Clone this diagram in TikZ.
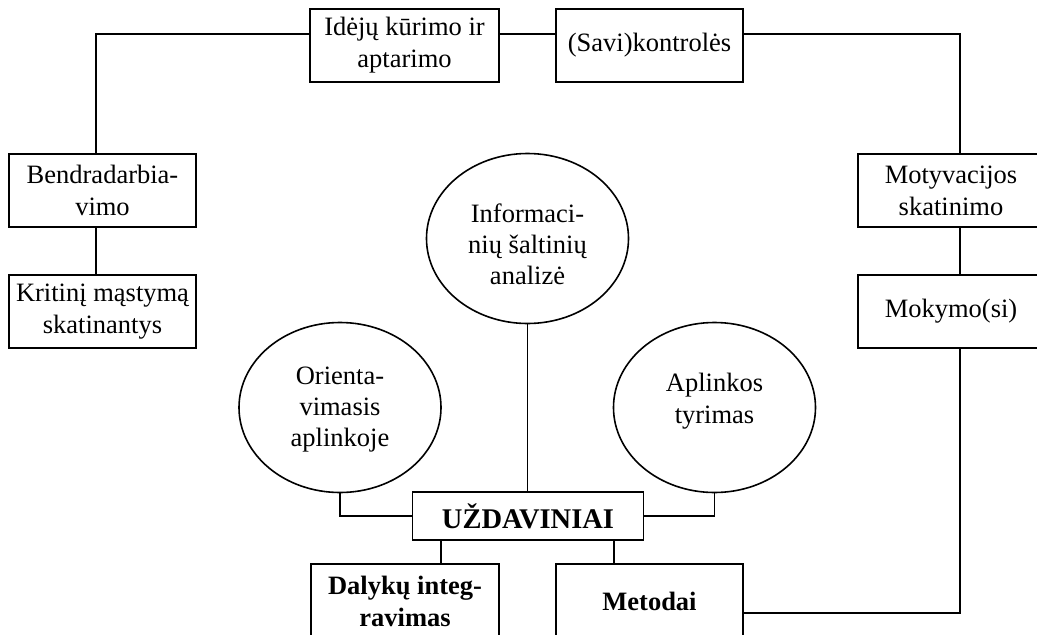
\documentclass[tikz,border=0pt]{standalone}
\usepackage{fontspec}
\setmainfont{Liberation Serif}
\usetikzlibrary{shapes.geometric,calc}
\tikzset{
  lw/.style={line width=1.6pt},
  boxn/.style={draw,lw,rectangle,inner sep=0pt,align=center,
    font=\fontsize{26.5}{32}\selectfont},
  elln/.style={draw,lw,ellipse,inner sep=0pt,align=center,
    minimum width=202pt,minimum height=170pt,
    font=\fontsize{26.5}{31.5}\selectfont},
  conn/.style={draw,lw}
}
\begin{document}
\begin{tikzpicture}[x=1pt,y=-1pt]
\useasboundingbox (0,0) rectangle (1037,635);
\clip (0,0) rectangle (1037,635);
% boxes
\node[boxn,minimum width=189pt,minimum height=73pt] (ide) at (404.5,45.5) {Idėjų kūrimo ir\\aptarimo};
\node[boxn,minimum width=187pt,minimum height=73pt] (sav) at (649.5,45.5) {(Savi)kontrolės};
\node[boxn,minimum width=187pt,minimum height=73pt] (ben) at (102.5,190.5) {Bendradarbia-\\vimo};
\node[boxn,minimum width=187pt,minimum height=73pt] (kri) at (102.5,311.5) {Kritinį mąstymą\\skatinantys};
\node[boxn,minimum width=186pt,minimum height=73pt] (mot) at (951,190.5) {Motyvacijos\\skatinimo};
\node[boxn,minimum width=186pt,minimum height=73pt] (mok) at (951,311.5) {Mokymo(si)};
\node[boxn,minimum width=231pt,minimum height=48pt,font=\fontsize{28.5}{32}\selectfont\bfseries] (uzd) at (528,516) {UŽDAVINIAI};
\node[boxn,minimum width=188pt,minimum height=75pt,font=\fontsize{26.5}{32}\selectfont\bfseries] (dal) at (405,601.5) {Dalykų integ-\\ravimas};
\node[boxn,minimum width=187pt,minimum height=75pt,font=\fontsize{26.5}{32}\selectfont\bfseries] (met) at (649.5,601.5) {Metodai};
% ellipses
\node[elln] (inf) at (527.5,238.5) {};
\node[align=center,font=\fontsize{26.5}{31}\selectfont] (inft) at (527.5,244) {Informaci-\\nių šaltinių\\analizė};
\node[elln] (ori) at (340,407.5) {};
\node[align=center,font=\fontsize{26.5}{31}\selectfont] (orit) at (340,410) {Orienta-\\vimasis\\aplinkoje};
\node[elln] (apl) at (714.5,407.5) {};
\node[align=center,font=\fontsize{26.5}{31.5}\selectfont] (aplt) at (714.5,401) {Aplinkos\\tyrimas};
% coordinates
\coordinate (tl) at (96,34);
\coordinate (tr) at (960,34);
\coordinate (br) at (960,613);
\coordinate (dl) at (441,0);
\coordinate (ml) at (614,0);
% connectors
\draw[conn] (ide.west |- tl) -- (tl) -- (tl |- ben.north);
\draw[conn] (ide.east |- tl) -- (sav.west |- tl);
\draw[conn] (sav.east |- tr) -- (tr) -- (tr |- mot.north);
\draw[conn] (tl |- ben.south) -- (tl |- kri.north);
\draw[conn] (tr |- mot.south) -- (tr |- mok.north);
\draw[conn] (tr |- mok.south) -- (br) -- (met.east |- br);
\draw[conn] (ori.south) |- (uzd.west);
\draw[conn] (apl.south) |- (uzd.east);
\draw[conn] (inf.south) -- (inf.south |- uzd.north);
\draw[conn] (dl |- uzd.south) -- (dl |- dal.north);
\draw[conn] (ml |- uzd.south) -- (ml |- met.north);
\end{tikzpicture}
\end{document}
